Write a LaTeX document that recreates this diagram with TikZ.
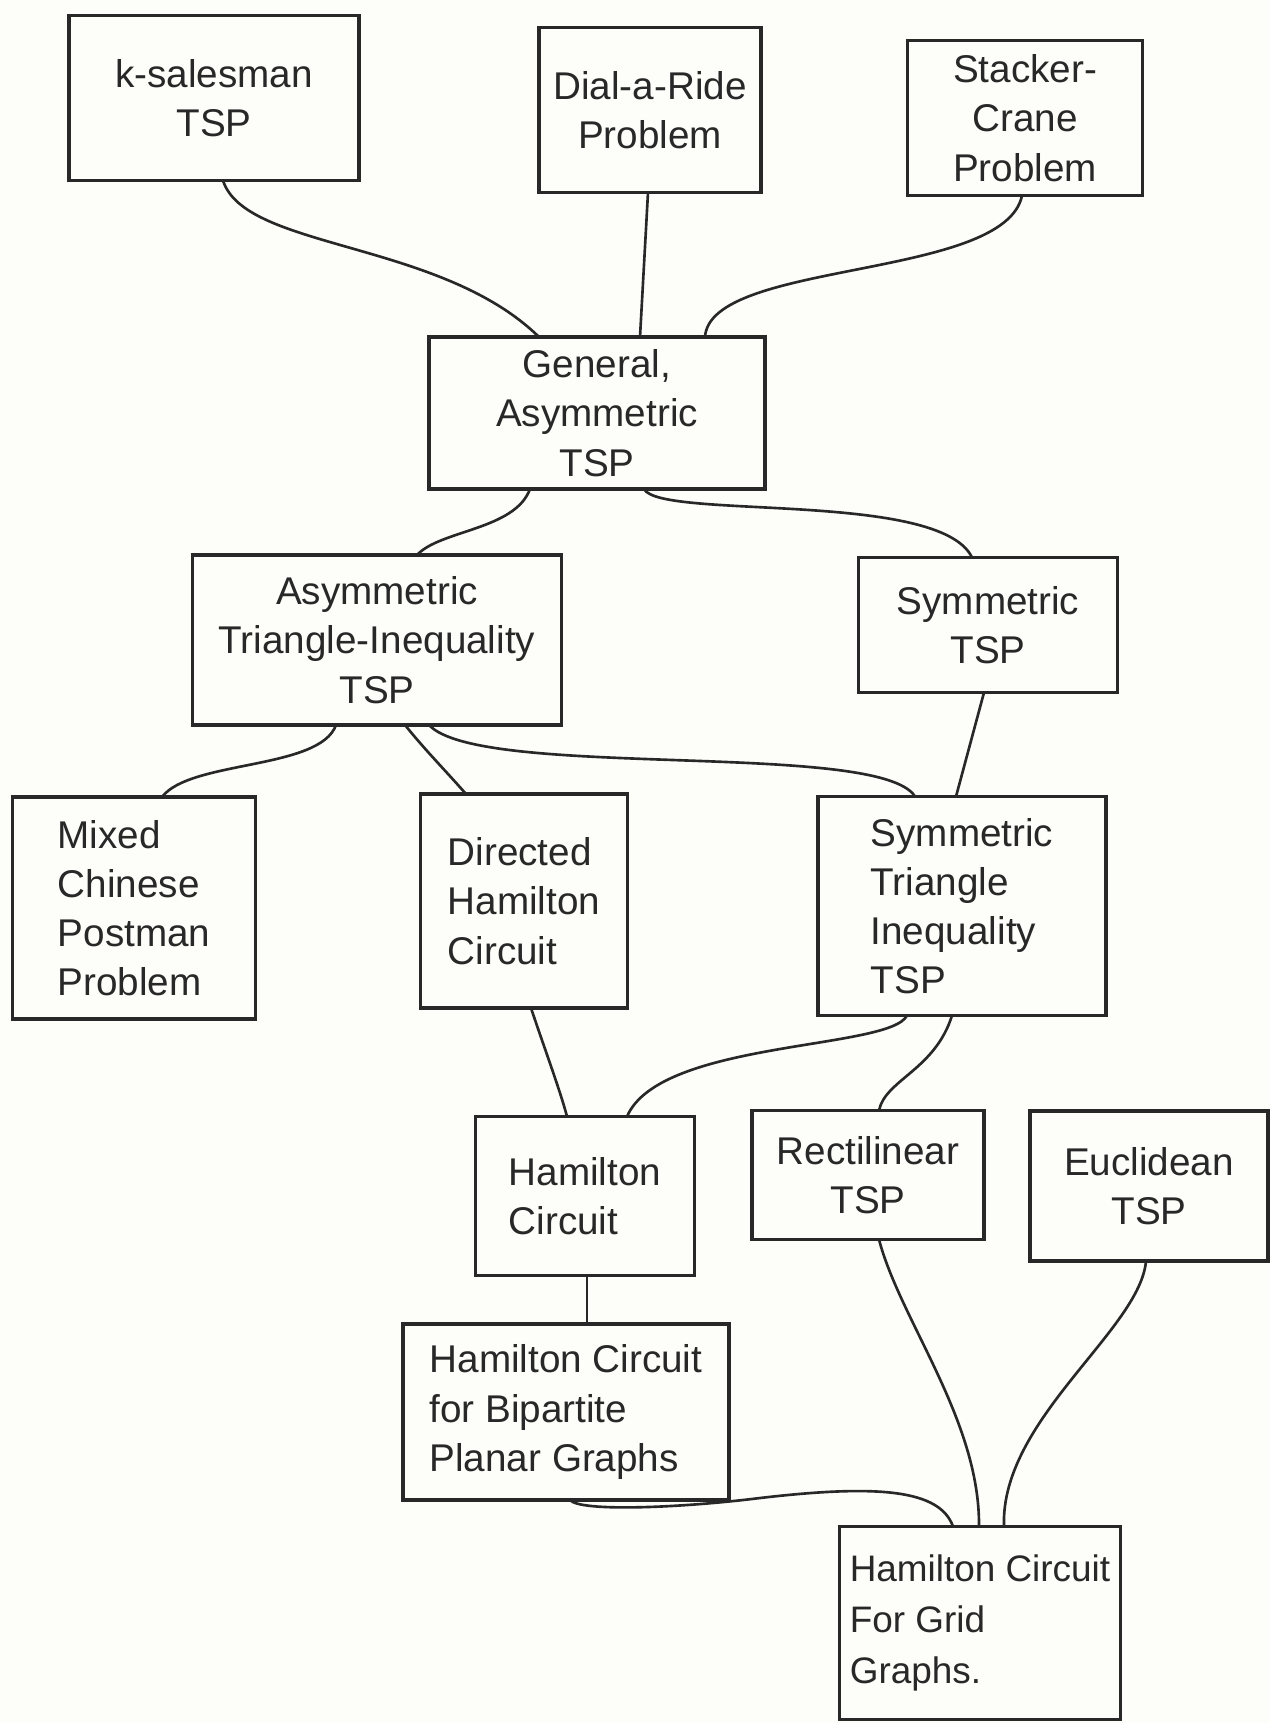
\documentclass[tikz,border=0pt]{standalone}
\usepackage{fontspec}
\setmainfont{Liberation Sans}
\usetikzlibrary{calc}

\definecolor{ink}{RGB}{40,40,40}
\definecolor{paper}{RGB}{253,253,249}

\begin{document}
\begin{tikzpicture}[x=0.02cm,y=-0.02cm,
  box/.style={draw=ink,line width=2pt,outer sep=0pt,inner sep=2pt,
    text=ink,font=\fontsize{22}{28}\selectfont,align=center},
  lbox/.style={box,align=left},
  link/.style={draw=ink,line width=1.5pt,line cap=round}]

% Page
\fill[paper] (0,0) rectangle (1270,1723);
\useasboundingbox (0,0) rectangle (1270,1723);

% Top row
\node[box,minimum width=5.8cm,minimum height=3.3cm] (ksales) at (214,98) {k-salesman\\TSP};
\node[box,minimum width=4.44cm,minimum height=3.3cm] (dial) at (650,110) {Dial-a-Ride\\Problem};
\node[box,minimum width=4.7cm,minimum height=3.1cm] (stacker) at (1025,118) {Stacker-\\Crane\\Problem};

% General
\node[box,minimum width=6.72cm,minimum height=3.04cm] (general) at (597,413) {General,\\Asymmetric\\TSP};

% Second row
\node[box,minimum width=7.38cm,minimum height=3.4cm] (asymti) at (377,640) {Asymmetric\\Triangle-Inequality\\TSP};
\node[box,minimum width=5.18cm,minimum height=2.7cm] (sym) at (988,625) {Symmetric\\TSP};

% Third row
\node[lbox,minimum width=4.86cm,minimum height=4.44cm] (mixed) at (134,908) {Mixed\\Chinese\\Postman\\Problem};
\node[lbox,minimum width=4.14cm,minimum height=4.28cm] (directed) at (524,901) {Directed\\Hamilton\\Circuit};
\node[lbox,minimum width=5.76cm,minimum height=4.38cm] (symti) at (962,906) {Symmetric\\Triangle\\Inequality\\TSP};

% Fourth row
\node[lbox,minimum width=4.38cm,minimum height=3.18cm] (hamilton) at (585,1196) {Hamilton\\Circuit};
\node[box,minimum width=4.64cm,minimum height=2.58cm] (rectilinear) at (868,1175) {Rectilinear\\TSP};
\node[box,minimum width=4.76cm,minimum height=3.0cm] (euclidean) at (1149,1186) {Euclidean\\TSP};

% Bottom
\node[lbox,minimum width=6.52cm,minimum height=3.52cm] (bipartite) at (566,1412) {Hamilton Circuit\\for Bipartite\\Planar Graphs};
\node[lbox,minimum width=5.62cm,minimum height=3.86cm,font=\fontsize{21}{29}\selectfont] (grid) at (980,1623) {Hamilton Circuit\\For Grid\\Graphs.};

% Lines
\draw[link] ($(ksales.south)+(9,0)$) .. controls (245,250) and (440,240) .. ($(general.north)+(-58,0)$);
\draw[link] ($(dial.south)+(-2,0)$) -- ($(general.north)+(43,0)$);
\draw[link] ($(stacker.south)+(-3,0)$) .. controls (1005,280) and (710,260) .. ($(general.north)+(108,0)$);
\draw[link] ($(general.south)+(-67,0)$) .. controls (515,530) and (440,530) .. ($(asymti.north)+(40,0)$);
\draw[link] ($(general.south)+(47,0)$) .. controls (660,520) and (940,490) .. ($(sym.north)+(-16,0)$);
\draw[link] ($(asymti.south)+(-41,0)$) .. controls (320,770) and (190,760) .. ($(mixed.north)+(28,0)$);
\draw[link] ($(asymti.south)+(28,0)$) .. controls (425,750) and (445,770) .. ($(directed.north)+(-58,0)$);
\draw[link] ($(asymti.south)+(52,0)$) .. controls (480,780) and (880,740) .. ($(symti.north)+(-47,0)$);
\draw[link] ($(sym.south)+(-4,0)$) -- ($(symti.north)+(-6,0)$);
\draw[link] ($(directed.south)+(7,0)$) .. controls (545,1050) and (560,1090) .. ($(hamilton.north)+(-18,0)$);
\draw[link] ($(symti.south)+(-55,0)$) .. controls (890,1050) and (660,1040) .. ($(hamilton.north)+(42,0)$);
\draw[link] ($(symti.south)+(-10,0)$) .. controls (935,1070) and (885,1080) .. ($(rectilinear.north)+(11,0)$);
\draw[link] ($(hamilton.south)+(2,0)$) -- ($(bipartite.north)+(21,0)$);
\draw[link] ($(rectilinear.south)+(11,0)$) .. controls (900,1320) and (980,1420) .. ($(grid.north)+(-1,0)$);
\draw[link] ($(euclidean.south)+(-3,0)$) .. controls (1140,1330) and (1000,1420) .. ($(grid.north)+(24,0)$);
\draw[link] ($(bipartite.south)+(4,0)$) .. controls (580,1512) and (680,1508) .. (760,1498)
  .. controls (880,1484) and (940,1490) .. ($(grid.north)+(-27,0)$);

\end{tikzpicture}
\end{document}
